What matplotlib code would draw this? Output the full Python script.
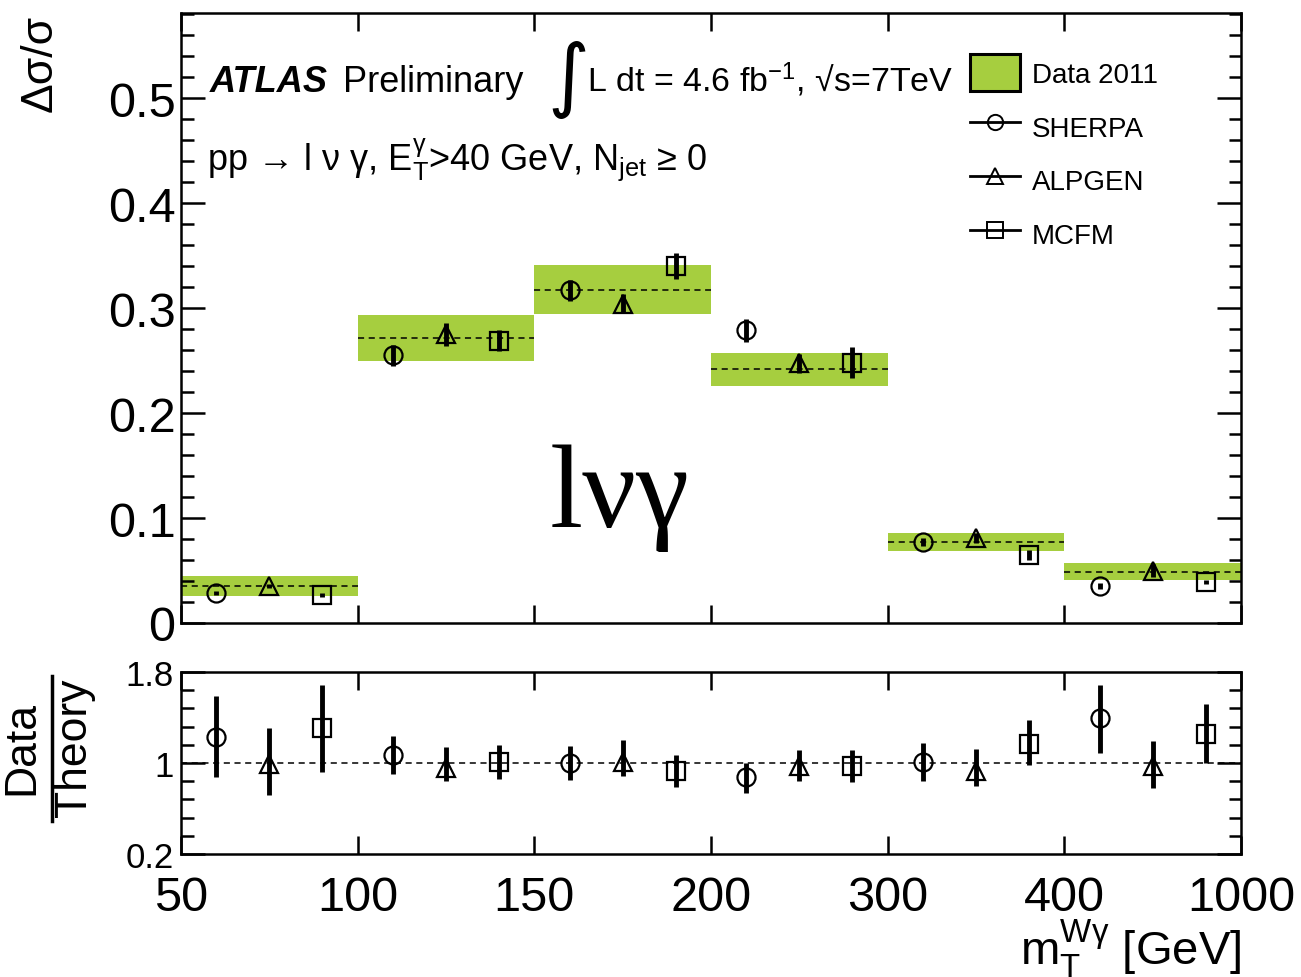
import matplotlib
matplotlib.use("Agg")
import matplotlib.pyplot as plt
import numpy as np
from matplotlib.patches import Patch
from matplotlib.lines import Line2D
from matplotlib.ticker import MultipleLocator, FixedLocator

plt.rcParams['font.family'] = ['Liberation Sans', 'DejaVu Sans']
plt.rcParams['mathtext.fontset'] = 'custom'
plt.rcParams['mathtext.rm'] = 'Liberation Sans'
plt.rcParams['mathtext.it'] = 'Liberation Sans'
plt.rcParams['mathtext.bf'] = 'Liberation Sans:bold'

# bin edges of m_T^{W gamma} [GeV], drawn with equal width
edges = [50, 100, 150, 200, 300, 400, 1000]

# unfolded data (normalised), band = total uncertainty
data = [0.0354, 0.2715, 0.317, 0.242, 0.0775, 0.049]
data_lo = [0.026, 0.250, 0.294, 0.226, 0.069, 0.0405]
data_hi = [0.045, 0.293, 0.341, 0.257, 0.086, 0.057]

# predictions
sherpa = [0.0285, 0.255, 0.317, 0.279, 0.077, 0.035]
sherpa_err = [0.002, 0.010, 0.010, 0.011, 0.004, 0.003]
alpgen = [0.035, 0.275, 0.304, 0.2475, 0.081, 0.050]
alpgen_err = [0.002, 0.011, 0.009, 0.009, 0.005, 0.006]
mcfm = [0.027, 0.269, 0.340, 0.248, 0.065, 0.039]
mcfm_err = [0.002, 0.010, 0.012, 0.0146, 0.005, 0.002]

# data / theory
r_sherpa = [1.227, 1.066, 0.998, 0.875, 1.01, 1.40]
r_sherpa_lo = [0.875, 0.904, 0.85, 0.74, 0.84, 1.09]
r_sherpa_hi = [1.59, 1.236, 1.15, 1.0, 1.18, 1.69]
r_alpgen = [0.99, 0.96, 1.01, 0.97, 0.93, 0.97]
r_alpgen_lo = [0.72, 0.84, 0.89, 0.84, 0.80, 0.78]
r_alpgen_hi = [1.31, 1.14, 1.20, 1.11, 1.12, 1.19]
r_mcfm = [1.307, 1.005, 0.93, 0.975, 1.17, 1.255]
r_mcfm_lo = [0.92, 0.86, 0.79, 0.83, 0.98, 1.0]
r_mcfm_hi = [1.69, 1.16, 1.07, 1.11, 1.38, 1.52]

green = '#a6ce3f'
W, H = 1301, 978

fig = plt.figure(figsize=(W / 100, H / 100), dpi=100)
ax = fig.add_axes([181 / W, 1 - 624 / H, 1060 / W, 610 / H])
rax = fig.add_axes([181 / W, 1 - 855 / H, 1060 / W, 182 / H])

nb = len(data)
idx = np.arange(nb)
offs = {'o': 0.2, '^': 0.5, 's': 0.8}

# data band + dashed central value
ax.bar(idx, np.array(data_hi) - np.array(data_lo), bottom=data_lo, width=1,
       align='edge', color=green, linewidth=0, zorder=1)
ax.hlines(data, idx, idx + 1, colors='black', linestyles=(0, (4, 3)), linewidth=1.1, zorder=2)

mk = dict(mfc='none', mec='black', mew=1.6, ms=13, ecolor='black', elinewidth=3.5,
          capsize=0, linestyle='none', zorder=3)
ax.errorbar(idx + offs['o'], sherpa, yerr=sherpa_err, marker='o', **mk)
ax.errorbar(idx + offs['^'], alpgen, yerr=alpgen_err, marker='^', **mk)
ax.errorbar(idx + offs['s'], mcfm, yerr=mcfm_err, marker='s', **mk)

ax.set_xlim(0, nb)
ax.set_ylim(0, 0.581)
ax.yaxis.set_minor_locator(MultipleLocator(0.02))
ax.xaxis.set_major_locator(FixedLocator(np.arange(nb + 1)))
ax.set_xticklabels([])
ax.set_yticks([0, 0.1, 0.2, 0.3, 0.4, 0.5])
ax.set_yticklabels(['0', '0.1', '0.2', '0.3', '0.4', '0.5'])

# ratio panel
def rerr(v, lo, hi):
    v = np.array(v)
    return [v - np.array(lo), np.array(hi) - v]

rax.axhline(1, color='black', linestyle=(0, (4, 3)), linewidth=1.1, zorder=1)
rax.errorbar(idx + offs['o'], r_sherpa, yerr=rerr(r_sherpa, r_sherpa_lo, r_sherpa_hi), marker='o', **mk)
rax.errorbar(idx + offs['^'], r_alpgen, yerr=rerr(r_alpgen, r_alpgen_lo, r_alpgen_hi), marker='^', **mk)
rax.errorbar(idx + offs['s'], r_mcfm, yerr=rerr(r_mcfm, r_mcfm_lo, r_mcfm_hi), marker='s', **mk)
rax.set_xlim(0, nb)
rax.set_ylim(0.2, 1.8)
rax.set_yticks([0.2, 1.0, 1.8])
rax.set_yticklabels(['0.2', '1', '1.8'])
rax.yaxis.set_minor_locator(FixedLocator(np.arange(0.2, 1.81, 0.16)))
rax.set_xticks(np.arange(nb + 1))
rax.set_xticklabels([str(e) for e in edges])

for a in (ax, rax):
    for s in a.spines.values():
        s.set_linewidth(1.8)
    a.tick_params(which='both', direction='in', top=True, right=True, width=1.8)
    a.tick_params(axis='y', which='major', length=17)
    a.tick_params(axis='y', which='minor', length=9)
    a.tick_params(axis='x', which='major', length=13)
ax.tick_params(axis='y', labelsize=35, pad=4)
rax.tick_params(axis='y', labelsize=25, pad=5)
rax.tick_params(axis='x', labelsize=35, pad=15)

# legend
handles = [
    Patch(facecolor=green, edgecolor='black', linewidth=2.2),
    Line2D([], [], color='black', lw=2, marker='o', mfc='none', mec='black', mew=1.4, ms=11),
    Line2D([], [], color='black', lw=2, marker='^', mfc='none', mec='black', mew=1.4, ms=11),
    Line2D([], [], color='black', lw=2, marker='s', mfc='none', mec='black', mew=1.4, ms=11),
]
ax.legend(handles, ['Data 2011', 'SHERPA', 'ALPGEN', 'MCFM'], loc='upper left',
          bbox_to_anchor=(0.744, 0.932), frameon=False, fontsize=20, borderpad=0,
          borderaxespad=0, handlelength=1.8, handleheight=1.65, handletextpad=0.43,
          labelspacing=0.62)

def px(x, y):
    return x / W, 1 - y / H

fig.text(*px(210, 92), 'ATLAS', fontsize=26, fontweight='bold', style='italic', va='baseline')
fig.text(*px(343, 92), 'Preliminary', fontsize=26, va='baseline')
fig.text(*px(547, 102), '\u222b', fontsize=58, va='baseline', family=['DejaVu Sans'])
fig.text(*px(587, 92), 'L dt = 4.6 fb$^{\\mathrm{-1}}$, \u221as=7TeV', fontsize=24.5, va='baseline')
fig.text(*px(207, 170), 'pp \u2192 l \u03bd \u03b3, E$_{\\mathrm{T}}^{\\gamma}$>40 GeV, N$_{\\mathrm{jet}}$ \u2265 0',
         fontsize=26, va='baseline')
fig.text(*px(550, 527), 'l\u03bd\u03b3', fontsize=86, va='baseline', family=['Liberation Serif'])

fig.text(*px(40, 15), '\u0394\u03c3/\u03c3', fontsize=32, rotation=90, ha='center', va='top')
fig.text(*px(1, 748), 'Data', fontsize=32, rotation=90, ha='left', va='center')
fig.text(*px(54, 748), 'Theory', fontsize=32, rotation=90, ha='left', va='center')
fig.add_artist(Line2D([52 / W, 52 / W], [1 - 677 / H, 1 - 822 / H], color='black', lw=2.5))

fig.text(*px(1241, 965), r'm$_{\mathrm{T}}^{\mathrm{W}\gamma}$ [GeV]', fontsize=34, ha='right', va='baseline')

fig.savefig('out.png', dpi=100)
